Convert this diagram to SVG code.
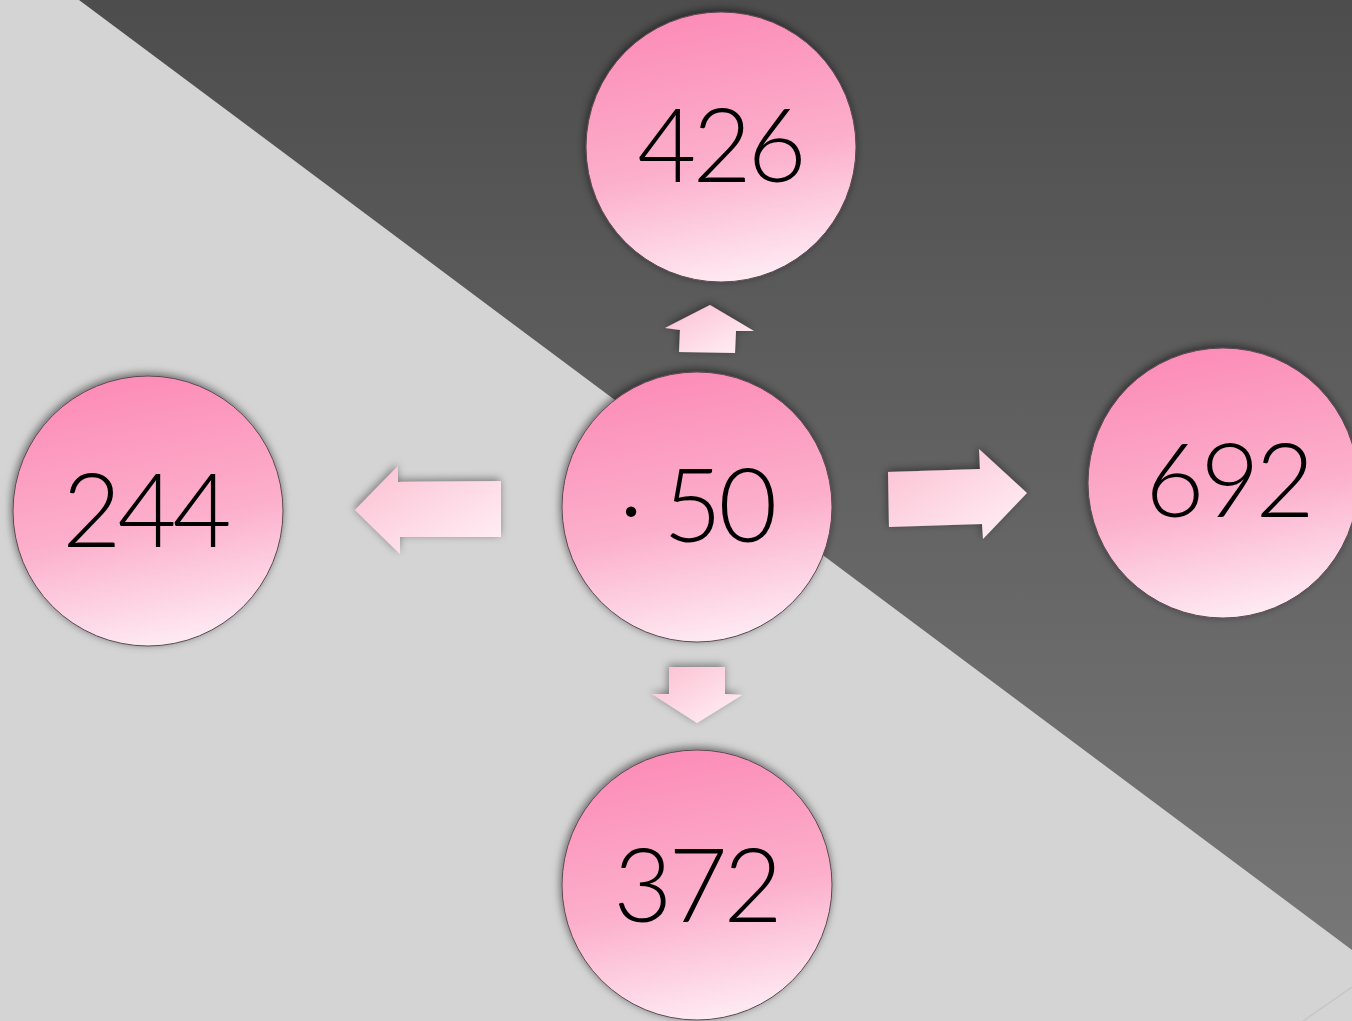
<svg xmlns="http://www.w3.org/2000/svg" width="1352" height="1021" viewBox="0 0 1352 1021">
<defs>
<linearGradient id="darkbg" x1="0" y1="0" x2="0" y2="950" gradientUnits="userSpaceOnUse">
<stop offset="0" stop-color="#4d4d4d"/>
<stop offset="1" stop-color="#777777"/>
</linearGradient>
<linearGradient id="ball" x1="0.4" y1="0" x2="0.6" y2="1">
<stop offset="0" stop-color="#fc8cb7"/>
<stop offset="0.55" stop-color="#fcafcb"/>
<stop offset="1" stop-color="#feecf3"/>
</linearGradient>
<linearGradient id="arr" x1="0" y1="0" x2="1" y2="1">
<stop offset="0" stop-color="#fcbfd2"/>
<stop offset="1" stop-color="#fff2f7"/>
</linearGradient>
<filter id="sh" x="-20%" y="-20%" width="140%" height="140%">
<feDropShadow dx="-1" dy="-2" stdDeviation="4" flood-color="#000" flood-opacity="0.55"/>
</filter>
<filter id="ash" x="-30%" y="-30%" width="160%" height="160%">
<feDropShadow dx="-1" dy="-2" stdDeviation="4" flood-color="#000" flood-opacity="0.45"/>
</filter>
</defs>
<style>
.ball{fill:url(#ball);stroke:#5a4a50;stroke-width:1;filter:url(#sh)}
.arrow{fill:url(#arr);filter:url(#ash)}
.lbl{font-family:Lato,"Liberation Sans",sans-serif;font-weight:300;font-size:102px;letter-spacing:-4px;fill:#000;text-anchor:middle}
</style>
<g id="background">
<rect x="0" y="0" width="1352" height="1021" fill="#d4d4d4"/>
<polygon points="79,0 1352,0 1352,950" fill="url(#darkbg)"/>
<line x1="1352" y1="987" x2="1303" y2="1021" stroke="#c6c6c6" stroke-width="1.5"/>
</g>
<g id="connectors">
<polygon class="arrow" points="710,305 754,331 736,331 735,353 679,352 680,330 665,328"/>
<polygon class="arrow" points="355,510 398,466 398,482 501,481 501,537 400,537 400,554"/>
<polygon class="arrow" points="888,472 980,469 979,449 1027,493 983,539 982,524 889,527"/>
<polygon class="arrow" points="669,667 725,667 725,694 742,695 697,723 652,694 669,694"/>
</g>
<g id="node-center">
<circle class="ball" cx="697" cy="507" r="135"/>
<text class="lbl" x="696" y="542">· 50</text>
</g>
<g id="node-426">
<circle class="ball" cx="721" cy="147" r="135"/>
<text class="lbl" x="720" y="182">426</text>
</g>
<g id="node-244">
<circle class="ball" cx="148" cy="511" r="135"/>
<text class="lbl" x="145" y="547">244</text>
</g>
<g id="node-692">
<circle class="ball" cx="1223" cy="483" r="135"/>
<text class="lbl" x="1228" y="517">692</text>
</g>
<g id="node-372">
<circle class="ball" cx="697" cy="885" r="135"/>
<text class="lbl" x="696" y="922">372</text>
</g>
</svg>
